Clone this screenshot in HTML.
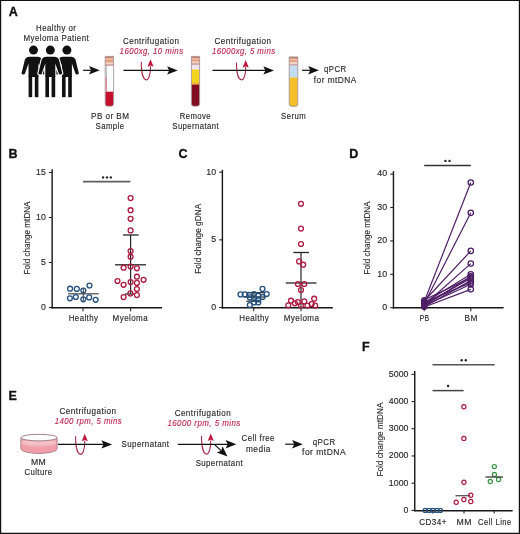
<!DOCTYPE html><html><head><meta charset="utf-8"><style>html,body{margin:0;padding:0;background:#fff;overflow:hidden;width:520px;height:534px;}svg{display:block;will-change:transform;}text{font-family:"Liberation Sans", sans-serif;}</style></head><body>
<svg width="520" height="534" viewBox="0 0 520 534">
<rect x="0" y="0" width="520" height="534" fill="#fff"/>
<text x="8.8" y="15.7" font-size="12.5" text-anchor="start" fill="#111" font-weight="bold" font-style="normal" stroke="#111" stroke-width="0.35" >A</text>
<text x="56.15" y="30.9" font-size="9.1" text-anchor="middle" fill="#2a2a2a" font-weight="normal" font-style="normal" textLength="40.20" lengthAdjust="spacingAndGlyphs" letter-spacing="0.5" stroke="#2a2a2a" stroke-width="0.15" >Healthy or</text>
<text x="56.35" y="40.9" font-size="9.1" text-anchor="middle" fill="#2a2a2a" font-weight="normal" font-style="normal" textLength="65.70" lengthAdjust="spacingAndGlyphs" letter-spacing="0.5" stroke="#2a2a2a" stroke-width="0.15" >Myeloma Patient</text>
<g transform="translate(33.5,0)"><g fill="#111"><circle cx="0" cy="50.1" r="4.5"/><path d="M-5,77 L-5,63.5 L-8.7,74 Q-10.6,75.4 -12,73.6 L-8.6,59.6 Q-7.4,56.7 -4,56.7 L4,56.7 Q7.4,56.7 8.6,59.6 L12,73.6 Q10.6,75.4 8.7,74 L5,63.5 L5,77 Z"/><rect x="-4.9" y="76" width="3.6" height="21.2"/><rect x="1.3" y="76" width="3.6" height="21.2"/></g></g>
<g transform="translate(66.9,0)"><g fill="#111"><circle cx="0" cy="50.1" r="4.5"/><path d="M-5,77 L-5,63.5 L-8.7,74 Q-10.6,75.4 -12,73.6 L-8.6,59.6 Q-7.4,56.7 -4,56.7 L4,56.7 Q7.4,56.7 8.6,59.6 L12,73.6 Q10.6,75.4 8.7,74 L5,63.5 L5,77 Z"/><rect x="-4.9" y="76" width="3.6" height="21.2"/><rect x="1.3" y="76" width="3.6" height="21.2"/></g></g>
<g transform="translate(50.3,0)"><g fill="#fff" stroke="#fff" stroke-width="2.2" stroke-linejoin="round"><circle cx="0" cy="50.1" r="4.5"/><path d="M-5,77 L-5,63.5 L-8.7,74 Q-10.6,75.4 -12,73.6 L-8.6,59.6 Q-7.4,56.7 -4,56.7 L4,56.7 Q7.4,56.7 8.6,59.6 L12,73.6 Q10.6,75.4 8.7,74 L5,63.5 L5,77 Z"/><rect x="-4.9" y="76" width="3.6" height="21.2"/><rect x="1.3" y="76" width="3.6" height="21.2"/></g></g>
<g transform="translate(50.3,0)"><g fill="#111"><circle cx="0" cy="50.1" r="4.5"/><path d="M-5,77 L-5,63.5 L-8.7,74 Q-10.6,75.4 -12,73.6 L-8.6,59.6 Q-7.4,56.7 -4,56.7 L4,56.7 Q7.4,56.7 8.6,59.6 L12,73.6 Q10.6,75.4 8.7,74 L5,63.5 L5,77 Z"/><rect x="-4.9" y="76" width="3.6" height="21.2"/><rect x="1.3" y="76" width="3.6" height="21.2"/></g></g>
<line x1="83.1" y1="70.3" x2="91.6" y2="70.3" stroke="#111" stroke-width="1.2" />
<path d="M99.7,70.3 L89.0,66.1 L91.1,70.3 L89.0,74.5 Z" fill="#111"/>
<g>
<clipPath id="clip105"><path d="M105.2,56.4 L113.60000000000001,56.4 L113.60000000000001,103.60000000000001 Q113.60000000000001,106.2 111.00000000000001,106.2 L107.8,106.2 Q105.2,106.2 105.2,103.60000000000001 Z"/></clipPath>
<g clip-path="url(#clip105)">
<rect x="105.2" y="56.4" width="8.4" height="49.800000000000004" fill="#fbfbfd"/>
<rect x="105.2" y="66" width="8.4" height="26" fill="#ffffff"/>
<rect x="105.2" y="91.7" width="8.4" height="14.599999999999994" fill="#c3102c"/>
<rect x="105.2" y="56.4" width="8.4" height="9.199999999999996" fill="#e2a080"/>
<rect x="105.2" y="56.4" width="8.4" height="1.8" fill="#c47f6c"/>
<rect x="105.2" y="58.199999999999996" width="8.4" height="1.4" fill="#efc2ac"/>
<rect x="105.2" y="62.39999999999999" width="8.4" height="2" fill="#f4d4c8"/>
<rect x="105.2" y="64.39999999999999" width="8.4" height="1.4" fill="#cfa4aa"/>
</g>
<path d="M105.2,56.4 L113.60000000000001,56.4 L113.60000000000001,103.60000000000001 Q113.60000000000001,106.2 111.00000000000001,106.2 L107.8,106.2 Q105.2,106.2 105.2,103.60000000000001 Z" fill="none" stroke="#9a8a8c" stroke-width="0.8"/>
</g>
<rect x="105.6" y="66" width="1.4" height="11" fill="#b9c3c9"/>
<rect x="105.6" y="77" width="1.4" height="15" fill="#d98a98"/>
<g>
<clipPath id="clip191"><path d="M191.4,56.4 L199.6,56.4 L199.6,103.60000000000001 Q199.6,106.2 197.0,106.2 L194.0,106.2 Q191.4,106.2 191.4,103.60000000000001 Z"/></clipPath>
<g clip-path="url(#clip191)">
<rect x="191.4" y="56.4" width="8.2" height="49.800000000000004" fill="#fbfbfd"/>
<rect x="191.4" y="64.5" width="8.2" height="4.900000000000006" fill="#ece6f0"/>
<rect x="191.4" y="69.4" width="8.2" height="15.399999999999991" fill="#f3d21c"/>
<rect x="191.4" y="82.4" width="8.2" height="2.3999999999999915" fill="#f2b43a"/>
<rect x="191.4" y="84.6" width="8.2" height="21.700000000000003" fill="#820c20"/>
<rect x="191.4" y="56.4" width="8.2" height="8.199999999999996" fill="#e2a080"/>
<rect x="191.4" y="56.4" width="8.2" height="1.8" fill="#c47f6c"/>
<rect x="191.4" y="58.199999999999996" width="8.2" height="1.4" fill="#efc2ac"/>
<rect x="191.4" y="61.39999999999999" width="8.2" height="2" fill="#f4d4c8"/>
<rect x="191.4" y="63.39999999999999" width="8.2" height="1.4" fill="#cfa4aa"/>
</g>
<path d="M191.4,56.4 L199.6,56.4 L199.6,103.60000000000001 Q199.6,106.2 197.0,106.2 L194.0,106.2 Q191.4,106.2 191.4,103.60000000000001 Z" fill="none" stroke="#9a8a8c" stroke-width="0.8"/>
</g>
<g>
<clipPath id="clip289"><path d="M289.2,56.9 L297.8,56.9 L297.8,103.80000000000001 Q297.8,106.4 295.2,106.4 L291.8,106.4 Q289.2,106.4 289.2,103.80000000000001 Z"/></clipPath>
<g clip-path="url(#clip289)">
<rect x="289.2" y="56.9" width="8.6" height="49.50000000000001" fill="#fbfbfd"/>
<rect x="289.2" y="65" width="8.6" height="12.5" fill="#c2dcf2"/>
<rect x="289.2" y="77.5" width="8.6" height="28.900000000000006" fill="#f5bf2a"/>
<rect x="289.2" y="56.9" width="8.6" height="8.300000000000004" fill="#e2a080"/>
<rect x="289.2" y="56.9" width="8.6" height="1.8" fill="#c47f6c"/>
<rect x="289.2" y="58.699999999999996" width="8.6" height="1.4" fill="#efc2ac"/>
<rect x="289.2" y="62.0" width="8.6" height="2" fill="#f4d4c8"/>
<rect x="289.2" y="64.0" width="8.6" height="1.4" fill="#cfa4aa"/>
</g>
<path d="M289.2,56.9 L297.8,56.9 L297.8,103.80000000000001 Q297.8,106.4 295.2,106.4 L291.8,106.4 Q289.2,106.4 289.2,103.80000000000001 Z" fill="none" stroke="#9a8a8c" stroke-width="0.8"/>
</g>
<text x="151.15" y="43.5" font-size="9.1" text-anchor="middle" fill="#2a2a2a" font-weight="normal" font-style="normal" textLength="56.30" lengthAdjust="spacingAndGlyphs" letter-spacing="0.5" stroke="#2a2a2a" stroke-width="0.15" >Centrifugation</text>
<text x="151.55" y="54" font-size="9.1" text-anchor="middle" fill="#bd1f4a" font-weight="normal" font-style="italic" textLength="63.90" lengthAdjust="spacingAndGlyphs" letter-spacing="0.5" stroke="#bd1f4a" stroke-width="0.12" >1600xg, 10 mins</text>
<path d="M141.3,61.7 C141.10000000000002,85.08 150.7,85.08 150.5,66.2" fill="none" stroke="#a8224a" stroke-width="1.05"/>
<path d="M150.5,59.2 L153.6,66.8 L150.5,65.60000000000001 L147.4,66.8 Z" fill="#c2173f"/>
<line x1="123.5" y1="70.4" x2="169.70000000000002" y2="70.4" stroke="#111" stroke-width="1.2" />
<path d="M177.8,70.4 L167.1,66.2 L169.2,70.4 L167.1,74.6 Z" fill="#111"/>
<text x="242.95" y="43.5" font-size="9.1" text-anchor="middle" fill="#2a2a2a" font-weight="normal" font-style="normal" textLength="57.10" lengthAdjust="spacingAndGlyphs" letter-spacing="0.5" stroke="#2a2a2a" stroke-width="0.15" >Centrifugation</text>
<text x="243.75" y="54" font-size="9.1" text-anchor="middle" fill="#bd1f4a" font-weight="normal" font-style="italic" textLength="63.50" lengthAdjust="spacingAndGlyphs" letter-spacing="0.5" stroke="#bd1f4a" stroke-width="0.12" >16000xg, 5 mins</text>
<path d="M236.5,62.5 C236.3,84.82 245.89999999999998,84.82 245.7,67" fill="none" stroke="#a8224a" stroke-width="1.05"/>
<path d="M245.7,60 L248.79999999999998,67.6 L245.7,66.4 L242.6,67.6 Z" fill="#c2173f"/>
<line x1="212.5" y1="70.4" x2="265.90000000000003" y2="70.4" stroke="#111" stroke-width="1.2" />
<path d="M274,70.4 L263.3,66.2 L265.4,70.4 L263.3,74.6 Z" fill="#111"/>
<line x1="302.1" y1="70.3" x2="310.8" y2="70.3" stroke="#111" stroke-width="1.2" />
<path d="M318.9,70.3 L308.2,66.1 L310.3,70.3 L308.2,74.5 Z" fill="#111"/>
<text x="335.25" y="72" font-size="9.1" text-anchor="middle" fill="#2a2a2a" font-weight="normal" font-style="normal" textLength="22.50" lengthAdjust="spacingAndGlyphs" letter-spacing="0.5" stroke="#2a2a2a" stroke-width="0.15" >qPCR</text>
<text x="335.25" y="82.7" font-size="9.1" text-anchor="middle" fill="#2a2a2a" font-weight="normal" font-style="normal" textLength="42.90" lengthAdjust="spacingAndGlyphs" letter-spacing="0.5" stroke="#2a2a2a" stroke-width="0.15" >for mtDNA</text>
<text x="110.25" y="118.6" font-size="9.1" text-anchor="middle" fill="#2a2a2a" font-weight="normal" font-style="normal" textLength="38.30" lengthAdjust="spacingAndGlyphs" letter-spacing="0.5" stroke="#2a2a2a" stroke-width="0.15" >PB or BM</text>
<text x="110.05" y="128.8" font-size="9.1" text-anchor="middle" fill="#2a2a2a" font-weight="normal" font-style="normal" textLength="29.00" lengthAdjust="spacingAndGlyphs" letter-spacing="0.5" stroke="#2a2a2a" stroke-width="0.15" >Sample</text>
<text x="195.45" y="118.8" font-size="9.1" text-anchor="middle" fill="#2a2a2a" font-weight="normal" font-style="normal" textLength="31.20" lengthAdjust="spacingAndGlyphs" letter-spacing="0.5" stroke="#2a2a2a" stroke-width="0.15" >Remove</text>
<text x="195.7" y="128.6" font-size="9.1" text-anchor="middle" fill="#2a2a2a" font-weight="normal" font-style="normal" textLength="46.80" lengthAdjust="spacingAndGlyphs" letter-spacing="0.5" stroke="#2a2a2a" stroke-width="0.15" >Supernatant</text>
<text x="293.55" y="119" font-size="9.1" text-anchor="middle" fill="#2a2a2a" font-weight="normal" font-style="normal" textLength="25.00" lengthAdjust="spacingAndGlyphs" letter-spacing="0.5" stroke="#2a2a2a" stroke-width="0.15" >Serum</text>
<text x="8.5" y="158.1" font-size="12.5" text-anchor="start" fill="#111" font-weight="bold" font-style="normal" stroke="#111" stroke-width="0.35" >B</text>
<line x1="52.15" y1="169.3" x2="52.15" y2="308.6" stroke="#161616" stroke-width="1.4" />
<line x1="48.949999999999996" y1="307.5" x2="52.15" y2="307.5" stroke="#222" stroke-width="1.1" />
<text x="45.85" y="309.85" font-size="8.8" text-anchor="end" fill="#2a2a2a" font-weight="normal" font-style="normal" stroke="#2a2a2a" stroke-width="0.15" >0</text>
<line x1="48.949999999999996" y1="262.5" x2="52.15" y2="262.5" stroke="#222" stroke-width="1.1" />
<text x="45.85" y="264.85" font-size="8.8" text-anchor="end" fill="#2a2a2a" font-weight="normal" font-style="normal" stroke="#2a2a2a" stroke-width="0.15" >5</text>
<line x1="48.949999999999996" y1="217.5" x2="52.15" y2="217.5" stroke="#222" stroke-width="1.1" />
<text x="45.85" y="219.85" font-size="8.8" text-anchor="end" fill="#2a2a2a" font-weight="normal" font-style="normal" stroke="#2a2a2a" stroke-width="0.15" >10</text>
<line x1="48.949999999999996" y1="172.5" x2="52.15" y2="172.5" stroke="#222" stroke-width="1.1" />
<text x="45.85" y="174.85" font-size="8.8" text-anchor="end" fill="#2a2a2a" font-weight="normal" font-style="normal" stroke="#2a2a2a" stroke-width="0.15" >15</text>
<line x1="51.45" y1="307.85" x2="162" y2="307.85" stroke="#161616" stroke-width="1.5" />
<line x1="83" y1="308" x2="83" y2="311.2" stroke="#2b2b2b" stroke-width="1.1" />
<line x1="130.6" y1="308" x2="130.6" y2="311.2" stroke="#2b2b2b" stroke-width="1.1" />
<text x="83.55" y="321.2" font-size="9.1" text-anchor="middle" fill="#2a2a2a" font-weight="normal" font-style="normal" textLength="29.60" lengthAdjust="spacingAndGlyphs" letter-spacing="0.5" stroke="#2a2a2a" stroke-width="0.15" >Healthy</text>
<text x="130.35" y="321.2" font-size="9.1" text-anchor="middle" fill="#2a2a2a" font-weight="normal" font-style="normal" textLength="35.50" lengthAdjust="spacingAndGlyphs" letter-spacing="0.5" stroke="#2a2a2a" stroke-width="0.15" >Myeloma</text>
<text transform="translate(30.3,238) rotate(-90)" font-size="9.6" text-anchor="middle" fill="#2a2a2a" stroke="#2a2a2a" stroke-width="0.12" textLength="73" lengthAdjust="spacingAndGlyphs">Fold change mtDNA</text>
<line x1="83" y1="181.7" x2="130.4" y2="181.7" stroke="#5e5e5e" stroke-width="1.7" />
<circle cx="103.1" cy="177.4" r="1.2" fill="#222"/>
<circle cx="107" cy="177.4" r="1.2" fill="#222"/>
<circle cx="110.8" cy="177.4" r="1.2" fill="#222"/>
<line x1="68" y1="293.8" x2="98.7" y2="293.8" stroke="#555" stroke-width="1.3" />
<line x1="83.3" y1="288.5" x2="83.3" y2="301" stroke="#444" stroke-width="1.1" />
<circle cx="70.1" cy="288.7" r="2.45" fill="none" stroke="#24507e" stroke-width="1.3"/>
<circle cx="76.8" cy="288.9" r="2.45" fill="none" stroke="#24507e" stroke-width="1.3"/>
<circle cx="83.3" cy="290.5" r="2.45" fill="none" stroke="#24507e" stroke-width="1.3"/>
<circle cx="89.5" cy="285.5" r="2.45" fill="none" stroke="#24507e" stroke-width="1.3"/>
<circle cx="69.9" cy="298.3" r="2.45" fill="none" stroke="#24507e" stroke-width="1.3"/>
<circle cx="75.8" cy="297" r="2.45" fill="none" stroke="#24507e" stroke-width="1.3"/>
<circle cx="83.3" cy="299.3" r="2.45" fill="none" stroke="#24507e" stroke-width="1.3"/>
<circle cx="89.2" cy="297.4" r="2.45" fill="none" stroke="#24507e" stroke-width="1.3"/>
<circle cx="95.7" cy="299.8" r="2.45" fill="none" stroke="#24507e" stroke-width="1.3"/>
<line x1="130.6" y1="235" x2="130.6" y2="293.5" stroke="#262626" stroke-width="1.2" />
<line x1="123" y1="235" x2="138.6" y2="235" stroke="#262626" stroke-width="1.3" />
<line x1="115" y1="264.8" x2="146" y2="264.8" stroke="#262626" stroke-width="1.3" />
<line x1="125" y1="294" x2="134.5" y2="294" stroke="#262626" stroke-width="1.2" />
<circle cx="130.6" cy="198.1" r="2.45" fill="none" stroke="#ad1b40" stroke-width="1.3"/>
<circle cx="130.6" cy="210.2" r="2.45" fill="none" stroke="#ad1b40" stroke-width="1.3"/>
<circle cx="130.6" cy="218.8" r="2.45" fill="none" stroke="#ad1b40" stroke-width="1.3"/>
<circle cx="130.6" cy="230.4" r="2.45" fill="none" stroke="#ad1b40" stroke-width="1.3"/>
<circle cx="130.6" cy="251" r="2.45" fill="none" stroke="#ad1b40" stroke-width="1.3"/>
<circle cx="130.6" cy="256.7" r="2.45" fill="none" stroke="#ad1b40" stroke-width="1.3"/>
<circle cx="123.6" cy="267.7" r="2.45" fill="none" stroke="#ad1b40" stroke-width="1.3"/>
<circle cx="130.6" cy="266.5" r="2.45" fill="none" stroke="#ad1b40" stroke-width="1.3"/>
<circle cx="136.9" cy="268.3" r="2.45" fill="none" stroke="#ad1b40" stroke-width="1.3"/>
<circle cx="136.9" cy="276.7" r="2.45" fill="none" stroke="#ad1b40" stroke-width="1.3"/>
<circle cx="143.6" cy="279.8" r="2.45" fill="none" stroke="#ad1b40" stroke-width="1.3"/>
<circle cx="117.5" cy="281" r="2.45" fill="none" stroke="#ad1b40" stroke-width="1.3"/>
<circle cx="130.6" cy="282.1" r="2.45" fill="none" stroke="#ad1b40" stroke-width="1.3"/>
<circle cx="136.9" cy="282.9" r="2.45" fill="none" stroke="#ad1b40" stroke-width="1.3"/>
<circle cx="123.6" cy="284.8" r="2.45" fill="none" stroke="#ad1b40" stroke-width="1.3"/>
<circle cx="136.9" cy="289" r="2.45" fill="none" stroke="#ad1b40" stroke-width="1.3"/>
<circle cx="130.4" cy="293.4" r="2.45" fill="none" stroke="#ad1b40" stroke-width="1.3"/>
<circle cx="136.9" cy="295.1" r="2.45" fill="none" stroke="#ad1b40" stroke-width="1.3"/>
<circle cx="123.6" cy="297.1" r="2.45" fill="none" stroke="#ad1b40" stroke-width="1.3"/>
<text x="178.6" y="158.0" font-size="12.5" text-anchor="start" fill="#111" font-weight="bold" font-style="normal" stroke="#111" stroke-width="0.35" >C</text>
<line x1="222.4" y1="169.8" x2="222.4" y2="308.6" stroke="#161616" stroke-width="1.4" />
<line x1="219.20000000000002" y1="307.5" x2="222.4" y2="307.5" stroke="#222" stroke-width="1.1" />
<text x="216.1" y="309.85" font-size="8.8" text-anchor="end" fill="#2a2a2a" font-weight="normal" font-style="normal" stroke="#2a2a2a" stroke-width="0.15" >0</text>
<line x1="219.20000000000002" y1="239.85000000000002" x2="222.4" y2="239.85000000000002" stroke="#222" stroke-width="1.1" />
<text x="216.1" y="242.20000000000002" font-size="8.8" text-anchor="end" fill="#2a2a2a" font-weight="normal" font-style="normal" stroke="#2a2a2a" stroke-width="0.15" >5</text>
<line x1="219.20000000000002" y1="172.20000000000002" x2="222.4" y2="172.20000000000002" stroke="#222" stroke-width="1.1" />
<text x="216.1" y="174.55" font-size="8.8" text-anchor="end" fill="#2a2a2a" font-weight="normal" font-style="normal" stroke="#2a2a2a" stroke-width="0.15" >10</text>
<line x1="221.7" y1="307.85" x2="332.8" y2="307.85" stroke="#161616" stroke-width="1.5" />
<line x1="253.7" y1="308" x2="253.7" y2="311.2" stroke="#2b2b2b" stroke-width="1.1" />
<line x1="301" y1="308" x2="301" y2="311.2" stroke="#2b2b2b" stroke-width="1.1" />
<text x="254.25" y="321" font-size="9.1" text-anchor="middle" fill="#2a2a2a" font-weight="normal" font-style="normal" textLength="30.10" lengthAdjust="spacingAndGlyphs" letter-spacing="0.5" stroke="#2a2a2a" stroke-width="0.15" >Healthy</text>
<text x="301.55" y="321" font-size="9.1" text-anchor="middle" fill="#2a2a2a" font-weight="normal" font-style="normal" textLength="35.80" lengthAdjust="spacingAndGlyphs" letter-spacing="0.5" stroke="#2a2a2a" stroke-width="0.15" >Myeloma</text>
<text transform="translate(200.6,238.8) rotate(-90)" font-size="9.6" text-anchor="middle" fill="#2a2a2a" stroke="#2a2a2a" stroke-width="0.12" textLength="70" lengthAdjust="spacingAndGlyphs">Fold change gDNA</text>
<line x1="254" y1="292.7" x2="254" y2="301.2" stroke="#262626" stroke-width="1.1" />
<line x1="246.4" y1="292.7" x2="264.2" y2="292.7" stroke="#262626" stroke-width="1.2" />
<line x1="244" y1="297" x2="266" y2="297" stroke="#262626" stroke-width="1.2" />
<line x1="246.4" y1="301.2" x2="260" y2="301.2" stroke="#262626" stroke-width="1.2" />
<circle cx="240.5" cy="294.4" r="2.45" fill="none" stroke="#24507e" stroke-width="1.3"/>
<circle cx="244.7" cy="294.4" r="2.45" fill="none" stroke="#24507e" stroke-width="1.3"/>
<circle cx="249.8" cy="294.8" r="2.45" fill="none" stroke="#24507e" stroke-width="1.3"/>
<circle cx="254" cy="294" r="2.45" fill="none" stroke="#24507e" stroke-width="1.3"/>
<circle cx="258.3" cy="295.7" r="2.45" fill="none" stroke="#24507e" stroke-width="1.3"/>
<circle cx="262.5" cy="288.9" r="2.45" fill="none" stroke="#24507e" stroke-width="1.3"/>
<circle cx="266.7" cy="294" r="2.45" fill="none" stroke="#24507e" stroke-width="1.3"/>
<circle cx="262.5" cy="297" r="2.45" fill="none" stroke="#24507e" stroke-width="1.3"/>
<circle cx="249.8" cy="297.4" r="2.45" fill="none" stroke="#24507e" stroke-width="1.3"/>
<circle cx="254" cy="298.6" r="2.45" fill="none" stroke="#24507e" stroke-width="1.3"/>
<circle cx="258.3" cy="299.5" r="2.45" fill="none" stroke="#24507e" stroke-width="1.3"/>
<circle cx="254" cy="302.5" r="2.45" fill="none" stroke="#24507e" stroke-width="1.3"/>
<circle cx="258.3" cy="302.5" r="2.45" fill="none" stroke="#24507e" stroke-width="1.3"/>
<circle cx="249.8" cy="305" r="2.45" fill="none" stroke="#24507e" stroke-width="1.3"/>
<line x1="301" y1="252.5" x2="301" y2="307" stroke="#262626" stroke-width="1.2" />
<line x1="293.3" y1="252.5" x2="309" y2="252.5" stroke="#262626" stroke-width="1.3" />
<line x1="285.7" y1="283" x2="316.5" y2="283" stroke="#262626" stroke-width="1.3" />
<circle cx="301" cy="203.8" r="2.45" fill="none" stroke="#ad1b40" stroke-width="1.3"/>
<circle cx="301" cy="228.6" r="2.45" fill="none" stroke="#ad1b40" stroke-width="1.3"/>
<circle cx="301" cy="244" r="2.45" fill="none" stroke="#ad1b40" stroke-width="1.3"/>
<circle cx="299.1" cy="261.4" r="2.45" fill="none" stroke="#ad1b40" stroke-width="1.3"/>
<circle cx="303.2" cy="264.7" r="2.45" fill="none" stroke="#ad1b40" stroke-width="1.3"/>
<circle cx="297.9" cy="284" r="2.45" fill="none" stroke="#ad1b40" stroke-width="1.3"/>
<circle cx="304.3" cy="284" r="2.45" fill="none" stroke="#ad1b40" stroke-width="1.3"/>
<circle cx="301" cy="290" r="2.45" fill="none" stroke="#ad1b40" stroke-width="1.3"/>
<circle cx="291" cy="300.7" r="2.45" fill="none" stroke="#ad1b40" stroke-width="1.3"/>
<circle cx="297.8" cy="302" r="2.45" fill="none" stroke="#ad1b40" stroke-width="1.3"/>
<circle cx="304.3" cy="301.4" r="2.45" fill="none" stroke="#ad1b40" stroke-width="1.3"/>
<circle cx="314.2" cy="298.7" r="2.45" fill="none" stroke="#ad1b40" stroke-width="1.3"/>
<circle cx="288.3" cy="305.3" r="2.45" fill="none" stroke="#ad1b40" stroke-width="1.3"/>
<circle cx="294.9" cy="303.3" r="2.45" fill="none" stroke="#ad1b40" stroke-width="1.3"/>
<circle cx="301" cy="305.5" r="2.45" fill="none" stroke="#ad1b40" stroke-width="1.3"/>
<circle cx="307.4" cy="305.5" r="2.45" fill="none" stroke="#ad1b40" stroke-width="1.3"/>
<circle cx="311.7" cy="304" r="2.45" fill="none" stroke="#ad1b40" stroke-width="1.3"/>
<circle cx="315.2" cy="305.5" r="2.45" fill="none" stroke="#ad1b40" stroke-width="1.3"/>
<text x="349.3" y="157.9" font-size="12.5" text-anchor="start" fill="#111" font-weight="bold" font-style="normal" stroke="#111" stroke-width="0.35" >D</text>
<line x1="393.45" y1="171.1" x2="393.45" y2="308.6" stroke="#161616" stroke-width="1.4" />
<line x1="390.25" y1="307.7" x2="393.45" y2="307.7" stroke="#222" stroke-width="1.1" />
<text x="387.15" y="310.05" font-size="8.8" text-anchor="end" fill="#2a2a2a" font-weight="normal" font-style="normal" stroke="#2a2a2a" stroke-width="0.15" >0</text>
<line x1="390.25" y1="274.3" x2="393.45" y2="274.3" stroke="#222" stroke-width="1.1" />
<text x="387.15" y="276.65000000000003" font-size="8.8" text-anchor="end" fill="#2a2a2a" font-weight="normal" font-style="normal" stroke="#2a2a2a" stroke-width="0.15" >10</text>
<line x1="390.25" y1="240.89999999999998" x2="393.45" y2="240.89999999999998" stroke="#222" stroke-width="1.1" />
<text x="387.15" y="243.24999999999997" font-size="8.8" text-anchor="end" fill="#2a2a2a" font-weight="normal" font-style="normal" stroke="#2a2a2a" stroke-width="0.15" >20</text>
<line x1="390.25" y1="207.5" x2="393.45" y2="207.5" stroke="#222" stroke-width="1.1" />
<text x="387.15" y="209.85" font-size="8.8" text-anchor="end" fill="#2a2a2a" font-weight="normal" font-style="normal" stroke="#2a2a2a" stroke-width="0.15" >30</text>
<line x1="390.25" y1="174.1" x2="393.45" y2="174.1" stroke="#222" stroke-width="1.1" />
<text x="387.15" y="176.45" font-size="8.8" text-anchor="end" fill="#2a2a2a" font-weight="normal" font-style="normal" stroke="#2a2a2a" stroke-width="0.15" >40</text>
<line x1="392.75" y1="307.8" x2="503.6" y2="307.8" stroke="#161616" stroke-width="1.5" />
<line x1="424.2" y1="308" x2="424.2" y2="311.2" stroke="#2b2b2b" stroke-width="1.1" />
<line x1="470.8" y1="308" x2="470.8" y2="311.2" stroke="#2b2b2b" stroke-width="1.1" />
<text x="424.45" y="321" font-size="9.1" text-anchor="middle" fill="#2a2a2a" font-weight="normal" font-style="normal" textLength="10.10" lengthAdjust="spacingAndGlyphs" letter-spacing="0.5" stroke="#2a2a2a" stroke-width="0.15" >PB</text>
<text x="471.25" y="321" font-size="9.1" text-anchor="middle" fill="#2a2a2a" font-weight="normal" font-style="normal" textLength="13.30" lengthAdjust="spacingAndGlyphs" letter-spacing="0.5" stroke="#2a2a2a" stroke-width="0.15" >BM</text>
<text transform="translate(369.9,238) rotate(-90)" font-size="9.6" text-anchor="middle" fill="#2a2a2a" stroke="#2a2a2a" stroke-width="0.12" textLength="73" lengthAdjust="spacingAndGlyphs">Fold change mtDNA</text>
<line x1="424.2" y1="165.4" x2="470.8" y2="165.4" stroke="#333" stroke-width="1.5" />
<circle cx="445.4" cy="160.9" r="1.2" fill="#222"/>
<circle cx="449.5" cy="160.9" r="1.2" fill="#222"/>
<line x1="424.2" y1="301.688" x2="470.8" y2="182.45" stroke="#4e1f66" stroke-width="1.2" />
<line x1="424.2" y1="303.692" x2="470.8" y2="212.844" stroke="#4e1f66" stroke-width="1.2" />
<line x1="424.2" y1="301.02" x2="470.8" y2="250.92" stroke="#4e1f66" stroke-width="1.2" />
<line x1="424.2" y1="305.02799999999996" x2="470.8" y2="263.61199999999997" stroke="#4e1f66" stroke-width="1.2" />
<line x1="424.2" y1="302.69" x2="470.8" y2="274.3" stroke="#4e1f66" stroke-width="1.2" />
<line x1="424.2" y1="306.03" x2="470.8" y2="276.304" stroke="#4e1f66" stroke-width="1.2" />
<line x1="424.2" y1="304.36" x2="470.8" y2="278.308" stroke="#4e1f66" stroke-width="1.2" />
<line x1="424.2" y1="306.698" x2="470.8" y2="280.646" stroke="#4e1f66" stroke-width="1.2" />
<line x1="424.2" y1="302.356" x2="470.8" y2="282.65" stroke="#4e1f66" stroke-width="1.2" />
<line x1="424.2" y1="307.032" x2="470.8" y2="289.33" stroke="#4e1f66" stroke-width="1.2" />
<line x1="424.2" y1="300.018" x2="470.8" y2="277.64" stroke="#4e1f66" stroke-width="1.2" />
<line x1="424.2" y1="305.69599999999997" x2="470.8" y2="284.32" stroke="#4e1f66" stroke-width="1.2" />
<circle cx="424.2" cy="301.688" r="2.5" fill="none" stroke="#4e1f66" stroke-width="1.1"/>
<circle cx="470.8" cy="182.45" r="2.7" fill="none" stroke="#4e1f66" stroke-width="1.25"/>
<circle cx="424.2" cy="303.692" r="2.5" fill="none" stroke="#4e1f66" stroke-width="1.1"/>
<circle cx="470.8" cy="212.844" r="2.7" fill="none" stroke="#4e1f66" stroke-width="1.25"/>
<circle cx="424.2" cy="301.02" r="2.5" fill="none" stroke="#4e1f66" stroke-width="1.1"/>
<circle cx="470.8" cy="250.92" r="2.7" fill="none" stroke="#4e1f66" stroke-width="1.25"/>
<circle cx="424.2" cy="305.02799999999996" r="2.5" fill="none" stroke="#4e1f66" stroke-width="1.1"/>
<circle cx="470.8" cy="263.61199999999997" r="2.7" fill="none" stroke="#4e1f66" stroke-width="1.25"/>
<circle cx="424.2" cy="302.69" r="2.5" fill="none" stroke="#4e1f66" stroke-width="1.1"/>
<circle cx="470.8" cy="274.3" r="2.7" fill="none" stroke="#4e1f66" stroke-width="1.25"/>
<circle cx="424.2" cy="306.03" r="2.5" fill="none" stroke="#4e1f66" stroke-width="1.1"/>
<circle cx="470.8" cy="276.304" r="2.7" fill="none" stroke="#4e1f66" stroke-width="1.25"/>
<circle cx="424.2" cy="304.36" r="2.5" fill="none" stroke="#4e1f66" stroke-width="1.1"/>
<circle cx="470.8" cy="278.308" r="2.7" fill="none" stroke="#4e1f66" stroke-width="1.25"/>
<circle cx="424.2" cy="306.698" r="2.5" fill="none" stroke="#4e1f66" stroke-width="1.1"/>
<circle cx="470.8" cy="280.646" r="2.7" fill="none" stroke="#4e1f66" stroke-width="1.25"/>
<circle cx="424.2" cy="302.356" r="2.5" fill="none" stroke="#4e1f66" stroke-width="1.1"/>
<circle cx="470.8" cy="282.65" r="2.7" fill="none" stroke="#4e1f66" stroke-width="1.25"/>
<circle cx="424.2" cy="307.032" r="2.5" fill="none" stroke="#4e1f66" stroke-width="1.1"/>
<circle cx="470.8" cy="289.33" r="2.7" fill="none" stroke="#4e1f66" stroke-width="1.25"/>
<circle cx="424.2" cy="300.018" r="2.5" fill="none" stroke="#4e1f66" stroke-width="1.1"/>
<circle cx="470.8" cy="277.64" r="2.7" fill="none" stroke="#4e1f66" stroke-width="1.25"/>
<circle cx="424.2" cy="305.69599999999997" r="2.5" fill="none" stroke="#4e1f66" stroke-width="1.1"/>
<circle cx="470.8" cy="284.32" r="2.7" fill="none" stroke="#4e1f66" stroke-width="1.25"/>
<text x="8.5" y="399.7" font-size="12.5" text-anchor="start" fill="#111" font-weight="bold" font-style="normal" stroke="#111" stroke-width="0.35" >E</text>
<path d="M20.9,437.7 L20.9,448.8 A18.1,4.6 0 0 0 57.1,448.8 L57.1,437.7 Z" fill="#f0a9b2" stroke="#98777e" stroke-width="0.9"/>
<path d="M21.4,444 A17.6,3.6 0 0 0 56.6,444 L56.6,448.5 A17.6,4.4 0 0 1 21.4,448.5 Z" fill="#f29aa6" opacity="0.8"/>
<ellipse cx="39" cy="442.6" rx="17.6" ry="2.9" fill="#f4c0c6"/>
<ellipse cx="39" cy="437.6" rx="18.1" ry="3.3" fill="#fdfdfd" stroke="#98777e" stroke-width="0.9"/>
<text x="38.6" y="465.1" font-size="9.1" text-anchor="middle" fill="#2a2a2a" font-weight="normal" font-style="normal" textLength="15.40" lengthAdjust="spacingAndGlyphs" letter-spacing="0.5" stroke="#2a2a2a" stroke-width="0.15" >MM</text>
<text x="38.45" y="475.4" font-size="9.1" text-anchor="middle" fill="#2a2a2a" font-weight="normal" font-style="normal" textLength="28.10" lengthAdjust="spacingAndGlyphs" letter-spacing="0.5" stroke="#2a2a2a" stroke-width="0.15" >Culture</text>
<text x="87.95" y="413.6" font-size="9.1" text-anchor="middle" fill="#2a2a2a" font-weight="normal" font-style="normal" textLength="56.90" lengthAdjust="spacingAndGlyphs" letter-spacing="0.5" stroke="#2a2a2a" stroke-width="0.15" >Centrifugation</text>
<text x="88.45" y="424.3" font-size="9.1" text-anchor="middle" fill="#bd1f4a" font-weight="normal" font-style="italic" textLength="67.50" lengthAdjust="spacingAndGlyphs" letter-spacing="0.5" stroke="#bd1f4a" stroke-width="0.12" >1400 rpm, 5 mins</text>
<path d="M75.6,436.2 C75.39999999999999,459.58 85.0,459.58 84.8,440.7" fill="none" stroke="#a8224a" stroke-width="1.05"/>
<path d="M84.8,433.7 L87.89999999999999,441.3 L84.8,440.09999999999997 L81.7,441.3 Z" fill="#c2173f"/>
<line x1="58" y1="444.4" x2="103.99999999999999" y2="444.4" stroke="#111" stroke-width="1.2" />
<path d="M112.1,444.4 L101.4,440.2 L103.5,444.4 L101.4,448.6 Z" fill="#111"/>
<text x="145.5" y="446.9" font-size="9.1" text-anchor="middle" fill="#2a2a2a" font-weight="normal" font-style="normal" textLength="48.00" lengthAdjust="spacingAndGlyphs" letter-spacing="0.5" stroke="#2a2a2a" stroke-width="0.15" >Supernatant</text>
<text x="202.95" y="415.8" font-size="9.1" text-anchor="middle" fill="#2a2a2a" font-weight="normal" font-style="normal" textLength="56.60" lengthAdjust="spacingAndGlyphs" letter-spacing="0.5" stroke="#2a2a2a" stroke-width="0.15" >Centrifugation</text>
<text x="204.05" y="426.1" font-size="9.1" text-anchor="middle" fill="#bd1f4a" font-weight="normal" font-style="italic" textLength="73.30" lengthAdjust="spacingAndGlyphs" letter-spacing="0.5" stroke="#bd1f4a" stroke-width="0.12" >16000 rpm, 5 mins</text>
<path d="M201.55,435.9 C201.35000000000002,459.28 210.95,459.28 210.75,440.4" fill="none" stroke="#a8224a" stroke-width="1.05"/>
<path d="M210.75,433.4 L213.85,441.0 L210.75,439.79999999999995 L207.65,441.0 Z" fill="#c2173f"/>
<line x1="177.8" y1="444.3" x2="228.20000000000002" y2="444.3" stroke="#111" stroke-width="1.2" />
<path d="M236.3,444.3 L225.6,440.1 L227.7,444.3 L225.6,448.5 Z" fill="#111"/>
<g transform="translate(214.4,444.4) rotate(43)"><line x1="0" y1="0" x2="9.5" y2="0" stroke="#111" stroke-width="1.2"/><path d="M17.9,0 L7.2,-4.2 L9.3,0 L7.2,4.2 Z" fill="#111"/></g>
<text x="219.35" y="466.4" font-size="9.1" text-anchor="middle" fill="#2a2a2a" font-weight="normal" font-style="normal" textLength="47.40" lengthAdjust="spacingAndGlyphs" letter-spacing="0.5" stroke="#2a2a2a" stroke-width="0.15" >Supernatant</text>
<text x="258.25" y="441.2" font-size="9.1" text-anchor="middle" fill="#2a2a2a" font-weight="normal" font-style="normal" textLength="33.30" lengthAdjust="spacingAndGlyphs" letter-spacing="0.5" stroke="#2a2a2a" stroke-width="0.15" >Cell free</text>
<text x="258.45" y="452.3" font-size="9.1" text-anchor="middle" fill="#2a2a2a" font-weight="normal" font-style="normal" textLength="24.90" lengthAdjust="spacingAndGlyphs" letter-spacing="0.5" stroke="#2a2a2a" stroke-width="0.15" >media</text>
<line x1="285.2" y1="444.2" x2="294.70000000000005" y2="444.2" stroke="#111" stroke-width="1.2" />
<path d="M302.8,444.2 L292.1,440.0 L294.2,444.2 L292.1,448.4 Z" fill="#111"/>
<text x="324.15" y="444.5" font-size="9.1" text-anchor="middle" fill="#2a2a2a" font-weight="normal" font-style="normal" textLength="22.80" lengthAdjust="spacingAndGlyphs" letter-spacing="0.5" stroke="#2a2a2a" stroke-width="0.15" >qPCR</text>
<text x="324.05" y="454.6" font-size="9.1" text-anchor="middle" fill="#2a2a2a" font-weight="normal" font-style="normal" textLength="44.00" lengthAdjust="spacingAndGlyphs" letter-spacing="0.5" stroke="#2a2a2a" stroke-width="0.15" >for mtDNA</text>
<text x="362.0" y="350.8" font-size="12.5" text-anchor="start" fill="#111" font-weight="bold" font-style="normal" stroke="#111" stroke-width="0.35" >F</text>
<line x1="414.75" y1="370.9" x2="414.75" y2="511.20000000000005" stroke="#161616" stroke-width="1.4" />
<line x1="411.55" y1="510.4" x2="414.75" y2="510.4" stroke="#222" stroke-width="1.1" />
<text x="408.45" y="512.75" font-size="8.8" text-anchor="end" fill="#2a2a2a" font-weight="normal" font-style="normal" stroke="#2a2a2a" stroke-width="0.15" >0</text>
<line x1="411.55" y1="483.17999999999995" x2="414.75" y2="483.17999999999995" stroke="#222" stroke-width="1.1" />
<text x="408.45" y="485.53" font-size="8.8" text-anchor="end" fill="#2a2a2a" font-weight="normal" font-style="normal" stroke="#2a2a2a" stroke-width="0.15" >1000</text>
<line x1="411.55" y1="455.96" x2="414.75" y2="455.96" stroke="#222" stroke-width="1.1" />
<text x="408.45" y="458.31" font-size="8.8" text-anchor="end" fill="#2a2a2a" font-weight="normal" font-style="normal" stroke="#2a2a2a" stroke-width="0.15" >2000</text>
<line x1="411.55" y1="428.74" x2="414.75" y2="428.74" stroke="#222" stroke-width="1.1" />
<text x="408.45" y="431.09000000000003" font-size="8.8" text-anchor="end" fill="#2a2a2a" font-weight="normal" font-style="normal" stroke="#2a2a2a" stroke-width="0.15" >3000</text>
<line x1="411.55" y1="401.52" x2="414.75" y2="401.52" stroke="#222" stroke-width="1.1" />
<text x="408.45" y="403.87" font-size="8.8" text-anchor="end" fill="#2a2a2a" font-weight="normal" font-style="normal" stroke="#2a2a2a" stroke-width="0.15" >4000</text>
<line x1="411.55" y1="374.29999999999995" x2="414.75" y2="374.29999999999995" stroke="#222" stroke-width="1.1" />
<text x="408.45" y="376.65" font-size="8.8" text-anchor="end" fill="#2a2a2a" font-weight="normal" font-style="normal" stroke="#2a2a2a" stroke-width="0.15" >5000</text>
<line x1="414.05" y1="510.7" x2="512.7" y2="510.7" stroke="#161616" stroke-width="1.5" />
<line x1="432.8" y1="510.6" x2="432.8" y2="513.6" stroke="#2b2b2b" stroke-width="1.1" />
<line x1="464" y1="510.6" x2="464" y2="513.6" stroke="#2b2b2b" stroke-width="1.1" />
<line x1="494.2" y1="510.6" x2="494.2" y2="513.6" stroke="#2b2b2b" stroke-width="1.1" />
<text x="433.05" y="524.6" font-size="9.1" text-anchor="middle" fill="#2a2a2a" font-weight="normal" font-style="normal" textLength="27.70" lengthAdjust="spacingAndGlyphs" letter-spacing="0.5" stroke="#2a2a2a" stroke-width="0.15" >CD34+</text>
<text x="464.25" y="524.6" font-size="9.1" text-anchor="middle" fill="#2a2a2a" font-weight="normal" font-style="normal" textLength="15.50" lengthAdjust="spacingAndGlyphs" letter-spacing="0.5" stroke="#2a2a2a" stroke-width="0.15" >MM</text>
<text x="494.85" y="524.6" font-size="9.1" text-anchor="middle" fill="#2a2a2a" font-weight="normal" font-style="normal" textLength="33.50" lengthAdjust="spacingAndGlyphs" letter-spacing="0.5" stroke="#2a2a2a" stroke-width="0.15" >Cell Line</text>
<text transform="translate(383.2,439.6) rotate(-90)" font-size="9.6" text-anchor="middle" fill="#2a2a2a" stroke="#2a2a2a" stroke-width="0.12" textLength="74" lengthAdjust="spacingAndGlyphs">Fold change mtDNA</text>
<line x1="432.5" y1="364.8" x2="494.7" y2="364.8" stroke="#555" stroke-width="1.5" />
<circle cx="461.7" cy="360.3" r="1.2" fill="#222"/>
<circle cx="465.8" cy="360.3" r="1.2" fill="#222"/>
<line x1="432.5" y1="390.6" x2="463.6" y2="390.6" stroke="#444" stroke-width="1.5" />
<circle cx="448.1" cy="386" r="1.2" fill="#222"/>
<circle cx="425.2" cy="510.4" r="2.1" fill="none" stroke="#24507e" stroke-width="1.2"/>
<circle cx="429" cy="510.4" r="2.1" fill="none" stroke="#24507e" stroke-width="1.2"/>
<circle cx="433" cy="510.4" r="2.1" fill="none" stroke="#24507e" stroke-width="1.2"/>
<circle cx="436.8" cy="510.4" r="2.1" fill="none" stroke="#24507e" stroke-width="1.2"/>
<circle cx="440.4" cy="510.4" r="2.1" fill="none" stroke="#24507e" stroke-width="1.2"/>
<line x1="455.5" y1="495.7" x2="470.2" y2="495.7" stroke="#555" stroke-width="1.3" />
<circle cx="463.9" cy="406.7" r="2.1" fill="none" stroke="#ad1b40" stroke-width="1.2"/>
<circle cx="463.9" cy="438.4" r="2.1" fill="none" stroke="#ad1b40" stroke-width="1.2"/>
<circle cx="463.9" cy="482.2" r="2.1" fill="none" stroke="#ad1b40" stroke-width="1.2"/>
<circle cx="470.8" cy="495.2" r="2.1" fill="none" stroke="#ad1b40" stroke-width="1.2"/>
<circle cx="463.9" cy="499.5" r="2.1" fill="none" stroke="#ad1b40" stroke-width="1.2"/>
<circle cx="456.2" cy="502.2" r="2.1" fill="none" stroke="#ad1b40" stroke-width="1.2"/>
<circle cx="470.8" cy="501.5" r="2.1" fill="none" stroke="#ad1b40" stroke-width="1.2"/>
<circle cx="494.3" cy="466.6" r="2.1" fill="none" stroke="#339440" stroke-width="1.2"/>
<circle cx="494.4" cy="474.4" r="2.1" fill="none" stroke="#339440" stroke-width="1.2"/>
<circle cx="498.6" cy="479.5" r="2.1" fill="none" stroke="#339440" stroke-width="1.2"/>
<circle cx="490.3" cy="481.5" r="2.1" fill="none" stroke="#339440" stroke-width="1.2"/>
<line x1="485.4" y1="477" x2="503" y2="477" stroke="#3a3a3a" stroke-width="1.3" />
<path d="M0,0 H520 V534 H0 Z M1.2,1.1 V532.8 H518.8 V1.1 Z" fill="#111" fill-rule="evenodd"/>
</svg></body></html>
